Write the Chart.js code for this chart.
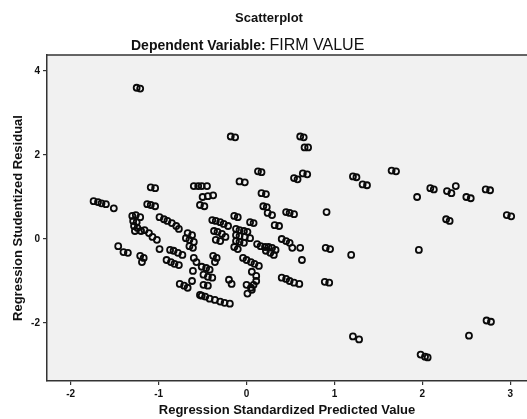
<!DOCTYPE html>
<html>
<head>
<meta charset="utf-8">
<script src="https://cdn.jsdelivr.net/npm/chart.js@4"></script>
<style>
  html, body { margin: 0; padding: 0; background: #fff; overflow: hidden; }
  canvas { display: block; }
</style>
</head>
<body>
<canvas id="myChart" width="527" height="419"></canvas>
<script>
// regression standardized predicted value (x) for each case
const predicted = [
  -1.25, -1.21,
  -0.18, -0.13, 0.61, 0.65, 0.66, 0.70,
  0.13, 0.17, 0.54, 0.58, 0.64, 0.69, 1.21, 1.25, 1.32, 1.37, -0.08, -0.02,
  -0.60, -0.55, -0.51, -0.45, -0.50, -0.44, -0.38, -0.53, -0.48,
  0.17, 0.22, 0.19, 0.23, 0.24, 0.29, 0.45, 0.49, 0.54, 0.91,
  1.65, 1.70, 1.94, 2.09, 2.13, 2.28, 2.33, 2.38, 2.50, 2.55, 2.72, 2.77, 2.27, 2.31, 2.96, 3.01,
  1.96, 1.98, 2.03, 2.06, 2.53, 2.73, 2.78, 1.21, 1.28, 1.19, 0.90, 0.95, 0.89, 0.94,
  -1.74, -1.69, -1.65, -1.60, -1.51, -1.09, -1.04, -1.13, -1.09, -1.04,
  -1.30, -1.26, -1.21, -1.29, -1.25, -1.28, -1.24, -1.20, -1.27, -1.16, -1.11, -1.07, -1.02,
  -0.99, -0.94, -0.90, -0.85, -0.80, -0.77, -0.99,
  -1.46, -1.40, -1.35, -1.21, -1.17, -1.19,
  -0.87, -0.83, -0.78, -0.73, -0.91, -0.86, -0.82, -0.77,
  -0.67, -0.62, -0.69, -0.65, -0.60, -0.65, -0.61, -0.60, -0.57, -0.61,
  -0.76, -0.71, -0.67, -0.62, -0.51,
  -0.39, -0.35, -0.30, -0.26, -0.21, -0.14, -0.10, 0.04, 0.08, 0.32, 0.37,
  -0.37, -0.33, -0.28, -0.24, -0.35, -0.30,
  -0.12, -0.08, -0.03, 0.01, -0.12, -0.08, -0.02, 0.04, -0.12, -0.08, -0.03, -0.14, -0.10,
  0.12, 0.16, 0.21, 0.25, 0.29, 0.33, 0.22, 0.27, 0.31,
  0.40, 0.45, 0.49, 0.52, 0.61, 0.63,
  -0.38, -0.34, -0.36,
  -0.04, 0.00, 0.05, 0.09, 0.14,
  0.06, 0.11, 0.11, 0.08, 0.06, 0.01,
  -0.51, -0.46, -0.42, -0.49, -0.44, -0.39,
  -0.20, -0.17,
  0.40, 0.45, 0.49, 0.54, 0.60,
  -0.49, -0.44,
  -0.53, -0.47, -0.42, -0.36, -0.30, -0.25, -0.19,
  0.00, 0.05,
];

// regression studentized residual (y), same order
const residual = [
  3.60, 3.58,
  2.44, 2.42, 2.44, 2.42, 2.18, 2.18,
  1.61, 1.59, 1.45, 1.42, 1.56, 1.54, 1.49, 1.47, 1.30, 1.28, 1.37, 1.35,
  1.26, 1.26, 1.26, 1.26, 1.00, 1.02, 1.04, 0.81, 0.78,
  1.09, 1.07, 0.78, 0.76, 0.62, 0.57, 0.64, 0.62, 0.59, 0.64,
  1.63, 1.61, 1.00, 1.21, 1.18, 1.14, 1.09, 1.26, 1.00, 0.97, 1.18, 1.16, 0.47, 0.43, 0.57, 0.54,
  -0.26, -2.75, -2.80, -2.82, -2.30, -1.94, -1.97, -2.32, -2.39, -0.38, -0.21, -0.24, -1.02, -1.04,
  0.90, 0.88, 0.85, 0.83, 0.73, 1.23, 1.21, 0.83, 0.81, 0.78,
  0.55, 0.57, 0.52, 0.43, 0.40, 0.31, 0.26, 0.19, 0.19, 0.21, 0.14, 0.05, -0.02,
  0.52, 0.47, 0.43, 0.38, 0.31, 0.24, -0.24,
  -0.17, -0.31, -0.33, -0.40, -0.45, -0.55,
  -0.26, -0.28, -0.33, -0.38, -0.50, -0.55, -0.59, -0.62,
  0.14, 0.09, 0.02, -0.02, -0.07, -0.17, -0.21, -0.45, -0.55, -0.76,
  -1.07, -1.11, -1.16, -1.00, -1.35,
  0.45, 0.43, 0.40, 0.36, 0.31, 0.55, 0.52, 0.40, 0.38, 0.33, 0.31,
  0.19, 0.17, 0.12, 0.05, -0.02, -0.05,
  0.24, 0.21, 0.19, 0.17, 0.09, 0.07, 0.05, 0.02, -0.05, -0.07, -0.09, -0.19, -0.24,
  -0.12, -0.17, -0.19, -0.19, -0.21, -0.26, -0.28, -0.33, -0.38,
  0.00, -0.05, -0.09, -0.21, -0.21, -0.50,
  -0.40, -0.45, -0.55,
  -0.45, -0.50, -0.55, -0.59, -0.64,
  -0.78, -0.88, -1.00, -1.09, -1.21, -1.30,
  -0.66, -0.69, -0.73, -0.85, -0.90, -0.92,
  -0.97, -1.07,
  -0.92, -0.95, -1.00, -1.04, -1.07,
  -1.09, -1.11,
  -1.33, -1.37, -1.42, -1.45, -1.49, -1.52, -1.54,
  -1.09, -1.16,
];

const xTicks = [-2, -1, 0, 1, 2, 3];
const yTicks = [-2, 0, 2, 4];

const frameColor = "#333333";

// plot background, top edge of frame and the two header lines
const framePlugin = {
  id: "frame",
  beforeDraw(chart) {
    const { ctx, chartArea } = chart;
    ctx.save();
    ctx.fillStyle = "#f1f1f1";
    ctx.fillRect(chartArea.left, chartArea.top, chartArea.right - chartArea.left, chartArea.bottom - chartArea.top);
    ctx.restore();
  },
  afterDraw(chart) {
    const { ctx, chartArea } = chart;
    ctx.save();
    ctx.strokeStyle = frameColor;
    ctx.lineWidth = 1.5;
    ctx.beginPath();
    ctx.moveTo(chartArea.left, chartArea.top);
    ctx.lineTo(chartArea.right, chartArea.top);
    ctx.stroke();

    ctx.fillStyle = "#111";
    ctx.textBaseline = "alphabetic";
    ctx.textAlign = "center";
    ctx.font = "bold 13px 'Liberation Sans', Arial, sans-serif";
    ctx.fillText("Scatterplot", 269, 22);

    ctx.textAlign = "left";
    ctx.font = "bold 14px 'Liberation Sans', Arial, sans-serif";
    const lead = "Dependent Variable: ";
    ctx.fillText(lead, 131, 50);
    const w = ctx.measureText(lead).width;
    ctx.font = "16px 'Liberation Sans', Arial, sans-serif";
    ctx.fillText("FIRM VALUE", 131 + w, 50);
    ctx.restore();
  },
};

const ctx = document.getElementById("myChart");
new Chart(ctx, {
  type: "scatter",
  data: {
    datasets: [
      {
        label: "Residuals",
        data: predicted.map((x, i) => ({ x: x, y: residual[i] })),
        pointRadius: 3,
        pointBorderWidth: 1.8,
        borderColor: "#0a0a0a",
        backgroundColor: "rgba(0,0,0,0)",
        pointHoverRadius: 3,
      },
    ],
  },
  options: {
    responsive: false,
    animation: false,
    layout: {
      autoPadding: false,
      padding: { top: 55, right: 0, bottom: 0, left: 0 },
    },
    plugins: {
      legend: { display: false },
      tooltip: { enabled: false },
    },
    scales: {
      x: {
        type: "linear",
        min: -2.27,
        max: 3.19,
        afterFit: (scale) => {
          scale.height = 38;
          scale.paddingLeft = 0;
          scale.paddingRight = 0;
        },
        afterBuildTicks: (scale) => {
          scale.ticks = xTicks.map((v) => ({ value: v }));
        },
        grid: {
          display: true,
          drawOnChartArea: false,
          drawTicks: true,
          tickLength: 4,
          color: frameColor,
          lineWidth: 1.2,
        },
        border: { display: true, color: frameColor, width: 1.5 },
        ticks: {
          color: "#111",
          padding: 3,
          maxRotation: 0,
          font: { family: "'Liberation Sans', Arial, sans-serif", size: 10, weight: "bold" },
        },
        title: {
          display: true,
          text: "Regression Standardized Predicted Value",
          color: "#111",
          padding: { top: 0, bottom: 1 },
          font: { family: "'Liberation Sans', Arial, sans-serif", size: 13, weight: "bold" },
        },
      },
      y: {
        type: "linear",
        min: -3.38,
        max: 4.38,
        afterFit: (scale) => {
          scale.width = 47;
          scale.paddingTop = 0;
          scale.paddingBottom = 0;
        },
        afterBuildTicks: (scale) => {
          scale.ticks = yTicks.map((v) => ({ value: v }));
        },
        grid: {
          display: true,
          drawOnChartArea: false,
          drawTicks: true,
          tickLength: 4,
          color: frameColor,
          lineWidth: 1.2,
        },
        border: { display: true, color: frameColor, width: 1.5 },
        ticks: {
          color: "#111",
          padding: 3,
          font: { family: "'Liberation Sans', Arial, sans-serif", size: 10, weight: "bold" },
        },
        title: {
          display: true,
          text: "Regression Studentized Residual",
          color: "#111",
          padding: { top: 11, bottom: 0 },
          font: { family: "'Liberation Sans', Arial, sans-serif", size: 13, weight: "bold" },
        },
      },
    },
  },
  plugins: [framePlugin],
});
</script>
</body>
</html>
